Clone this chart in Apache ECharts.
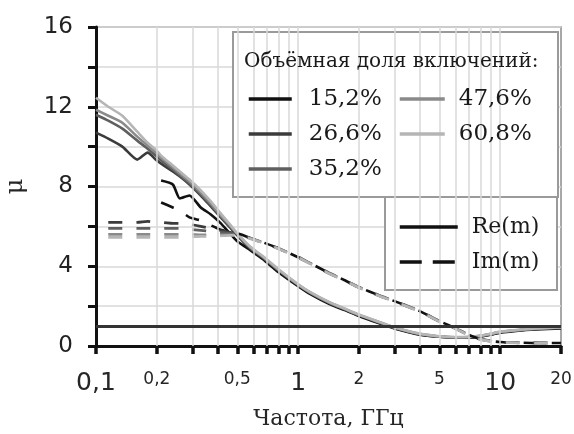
<!DOCTYPE html>
<html>
<head>
<meta charset="utf-8">
<script src="https://cdn.jsdelivr.net/npm/echarts@6/dist/echarts.min.js"></script>
<style>
  html, body { margin: 0; padding: 0; background: #ffffff; }
  #chart { width: 574px; height: 434px; }
</style>
</head>
<body>
<div id="chart"></div>
<script>
// Frequency grid, GHz
const freqGHz = [0.1, 0.115, 0.135, 0.16, 0.18, 0.2, 0.21, 0.24, 0.26, 0.29, 0.33, 0.37, 0.41, 0.46, 0.5,
  0.58, 0.67, 0.8, 1, 1.15, 1.43, 1.7, 2, 2.5, 3, 4, 5, 6, 7, 8, 9, 10, 12, 15, 20];

// Real part of permeability, per volume fraction of inclusions
const re152 = [null, null, null, null, null, null, 8.3, 8.1, 7.4, 7.55, 6.95, 6.6, 6.2, 5.65, 5.25,
  4.8, 4.35, 3.7, 3.0, 2.6, 2.1, 1.8, 1.5, 1.15, 0.88, 0.57, 0.46, 0.42, 0.42, 0.47, 0.57, 0.67, 0.76, 0.83, 0.88];
const re266 = [10.7, 10.4, 10.0, 9.35, 9.7, 9.3, 9.15, 8.75, 8.5, 8.1, 7.55, 7.0, 6.5, 5.95, 5.55,
  4.88, 4.42, 3.78, 3.05, 2.65, 2.15, 1.83, 1.53, 1.18, 0.9, 0.58, 0.46, 0.42, 0.43, 0.48, 0.58, 0.69, 0.77, 0.85, 0.9];
const re352 = [11.6, 11.3, 10.9, 10.3, 9.9, 9.5, 9.3, 8.85, 8.55, 8.15, 7.6, 7.05, 6.55, 6.0, 5.6,
  4.92, 4.45, 3.8, 3.07, 2.67, 2.17, 1.85, 1.55, 1.2, 0.92, 0.6, 0.47, 0.43, 0.44, 0.5, 0.6, 0.7, 0.78, 0.86, 0.92];
const re476 = [11.85, 11.55, 11.2, 10.5, 10.05, 9.65, 9.45, 8.95, 8.65, 8.25, 7.7, 7.15, 6.6, 6.05, 5.62,
  4.95, 4.47, 3.82, 3.08, 2.68, 2.18, 1.86, 1.56, 1.21, 0.93, 0.61, 0.48, 0.44, 0.45, 0.51, 0.61, 0.71, 0.79, 0.87, 0.93];
const re608 = [12.45, 12.0, 11.55, 10.75, 10.2, 9.8, 9.55, 9.05, 8.75, 8.35, 7.8, 7.25, 6.7, 6.1, 5.65,
  4.98, 4.5, 3.85, 3.1, 2.7, 2.2, 1.88, 1.58, 1.22, 0.94, 0.62, 0.49, 0.45, 0.46, 0.52, 0.62, 0.72, 0.8, 0.88, 0.94];

// Imaginary part of permeability, per volume fraction
const im152 = [null, null, null, null, null, null, 7.2, 6.95, 6.8, 6.45, 6.3, 6.05, 5.85, 5.7, 5.65,
  5.42, 5.2, 4.9, 4.45, 4.15, 3.65, 3.3, 2.95, 2.55, 2.25, 1.75, 1.25, 0.9, 0.55, 0.35, 0.25, 0.2, 0.17, 0.15, 0.15];
const im266 = [null, 6.2, 6.2, 6.2, 6.25, 6.2, 6.2, 6.15, 6.15, 6.1, 6.0, 5.9, 5.8, 5.7, 5.65,
  5.4, 5.18, 4.88, 4.45, 4.13, 3.63, 3.28, 2.93, 2.53, 2.23, 1.73, 1.23, 0.88, 0.53, 0.33, 0.24, 0.19, 0.16, 0.15, 0.14];
const im352 = [null, 5.9, 5.9, 5.9, 5.9, 5.9, 5.9, 5.9, 5.9, 5.85, 5.8, 5.75, 5.7, 5.65, 5.62,
  5.41, 5.2, 4.9, 4.47, 4.15, 3.66, 3.3, 2.96, 2.56, 2.26, 1.76, 1.26, 0.9, 0.56, 0.36, 0.26, 0.2, 0.17, 0.16, 0.15];
const im476 = [null, 5.6, 5.6, 5.6, 5.6, 5.6, 5.6, 5.6, 5.6, 5.6, 5.58, 5.58, 5.58, 5.58, 5.58,
  5.4, 5.19, 4.89, 4.46, 4.14, 3.64, 3.29, 2.94, 2.54, 2.24, 1.74, 1.24, 0.89, 0.54, 0.34, 0.25, 0.2, 0.17, 0.15, 0.15];
const im608 = [null, 5.45, 5.45, 5.45, 5.45, 5.45, 5.45, 5.45, 5.45, 5.47, 5.5, 5.5, 5.52, 5.55, 5.55,
  5.38, 5.17, 4.87, 4.44, 4.12, 3.62, 3.27, 2.92, 2.52, 2.22, 1.72, 1.22, 0.87, 0.52, 0.32, 0.23, 0.18, 0.15, 0.14, 0.13];

const fractionNames = ['15,2%', '26,6%', '35,2%', '47,6%', '60,8%'];
const reSets = [re152, re266, re352, re476, re608];
const imSets = [im152, im266, im352, im476, im608];
const lineColors = ['#111111', '#3b3b3b', '#5f5f5f', '#8a8a8a', '#b5b5b5'];

// Axis ticks, labels and gridlines (GHz)
const xTickValues = [0.1, 0.2, 0.3, 0.4, 0.5, 0.6, 0.7, 0.8, 0.9, 1, 2, 3, 4, 5, 6, 7, 8, 9, 10, 20];
const xLabelValues = [0.1, 0.2, 0.5, 1, 2, 5, 10, 20];
const xMajorValues = [0.1, 1, 10];
const xGridValues = [0.2, 0.3, 0.4, 0.5, 0.6, 0.7, 0.8, 0.9, 1, 2, 3, 4, 5, 6, 7, 8, 9, 10];
const unityLevel = 1;

const serif = '"DejaVu Serif", "Liberation Serif", serif';
const sans = '"DejaVu Sans", "Liberation Sans", sans-serif';

const pairs = vals => freqGHz.map((f, i) => [f, vals[i]]);

const series = [];

// Background gridlines and the unity reference line
series.push({
  type: 'line', name: 'gridlines', data: [], z: 1, silent: true, animation: false,
  markLine: {
    silent: true, symbol: 'none', animation: false, label: { show: false },
    data: xGridValues.map(f => ({ xAxis: f, lineStyle: { color: '#d9d9d9', width: 1.5, type: 'solid' } }))
      .concat([{ yAxis: unityLevel, lineStyle: { color: '#333333', width: 3, type: 'solid' } }])
  }
});

fractionNames.forEach((name, k) => {
  series.push({
    type: 'line', name: name, data: pairs(reSets[k]), symbol: 'none', showSymbol: false,
    smooth: 0.2, z: 3, animation: false,
    itemStyle: { color: lineColors[k] },
    lineStyle: { color: lineColors[k], width: 2.6, type: 'solid' }
  });
});
fractionNames.forEach((name, k) => {
  series.push({
    type: 'line', name: name, data: pairs(imSets[k]), symbol: 'none', showSymbol: false,
    smooth: 0.2, z: 3, animation: false,
    itemStyle: { color: lineColors[k] },
    lineStyle: { color: lineColors[k], width: 2.6, type: [14, 14] }
  });
});

// Style keys for the second legend
series.push({
  type: 'line', name: 'Re(m)', data: [], symbol: 'none',
  itemStyle: { color: '#111111' }, lineStyle: { color: '#111111', width: 3.5, type: 'solid' }
});
series.push({
  type: 'line', name: 'Im(m)', data: [], symbol: 'none',
  itemStyle: { color: '#111111' }, lineStyle: { color: '#111111', width: 3.5, type: [22, 11] }
});

const legendText = { fontFamily: serif, fontSize: 23, color: '#1a1a1a', lineHeight: 24 };
const legendCommon = {
  orient: 'vertical', z: 10, padding: 0, itemHeight: 14, itemGap: 11, selectedMode: false,
  itemStyle: { opacity: 0 }, lineStyle: { width: 3.5 }
};

const option = {
  animation: false,
  backgroundColor: '#ffffff',
  grid: {
    left: 96, right: 13, top: 27, bottom: 88, containLabel: false, outerBoundsMode: 'none',
    show: true, borderColor: '#8c8c8c', borderWidth: 1.5, backgroundColor: 'transparent'
  },
  xAxis: {
    type: 'log', logBase: 10, min: 0.1, max: 20,
    axisLine: { show: true, onZero: false, lineStyle: { color: '#111111', width: 3 } },
    axisTick: { show: true, customValues: xTickValues, length: 8, lineStyle: { color: '#111111', width: 3.5 } },
    axisLabel: {
      customValues: xLabelValues, margin: 25, color: '#262626',
      formatter: v => {
        const s = +Number(v).toPrecision(3);
        const txt = String(s).replace('.', ',');
        return (xMajorValues.indexOf(s) >= 0 ? '{big|' : '{small|') + txt + '}';
      },
      rich: {
        big: { fontFamily: sans, fontSize: 25, color: '#262626' },
        small: { fontFamily: sans, fontSize: 17, color: '#262626' }
      }
    },
    splitLine: { show: false },
    minorTick: { show: false },
    name: 'Частота, ГГц', nameLocation: 'middle', nameGap: 62,
    nameTextStyle: { fontFamily: serif, fontSize: 22, color: '#262626' }
  },
  yAxis: {
    type: 'value', min: 0, max: 16, interval: 2,
    axisLine: { show: true, lineStyle: { color: '#111111', width: 3 } },
    axisTick: { show: true, length: 8, lineStyle: { color: '#111111', width: 3 } },
    axisLabel: {
      formatter: v => (v % 4 === 0 ? String(v) : ''),
      fontFamily: sans, fontSize: 23, color: '#222222', margin: 23
    },
    splitLine: { show: true, lineStyle: { color: '#d9d9d9', width: 1.5 } },
    name: 'μ', nameLocation: 'middle', nameGap: 68,
    nameTextStyle: { fontFamily: serif, fontSize: 24, color: '#262626' }
  },
  legend: [
    Object.assign({
      data: fractionNames.slice(0, 3), left: 247, top: 87, itemWidth: 43,
      textStyle: Object.assign({ padding: [0, 0, 0, 12] }, legendText)
    }, legendCommon),
    Object.assign({
      data: fractionNames.slice(3), left: 398, top: 87, itemWidth: 45,
      textStyle: Object.assign({ padding: [0, 0, 0, 9] }, legendText)
    }, legendCommon),
    Object.assign({
      data: ['Re(m)', 'Im(m)'], left: 398, top: 215, itemWidth: 58,
      textStyle: Object.assign({ padding: [0, 0, 0, 9] }, legendText, { fontSize: 22 })
    }, legendCommon)
  ],
  graphic: [
    {
      type: 'rect', z: 5, silent: true,
      shape: { x: 233, y: 32, width: 325, height: 165 },
      style: { fill: '#ffffff', stroke: '#9a9a9a', lineWidth: 2 }
    },
    {
      type: 'text', z: 6, silent: true, x: 244, y: 62,
      style: { text: 'Объёмная доля включений:', font: '20px ' + serif, fill: '#1a1a1a', verticalAlign: 'middle' }
    },
    {
      type: 'rect', z: 5, silent: true,
      shape: { x: 385, y: 197, width: 172, height: 93 },
      style: { fill: '#ffffff', stroke: '#9a9a9a', lineWidth: 2 }
    }
  ],
  series: series
};

const chart = echarts.init(document.getElementById('chart'), null, { renderer: 'canvas' });
chart.setOption(option);
</script>
</body>
</html>
